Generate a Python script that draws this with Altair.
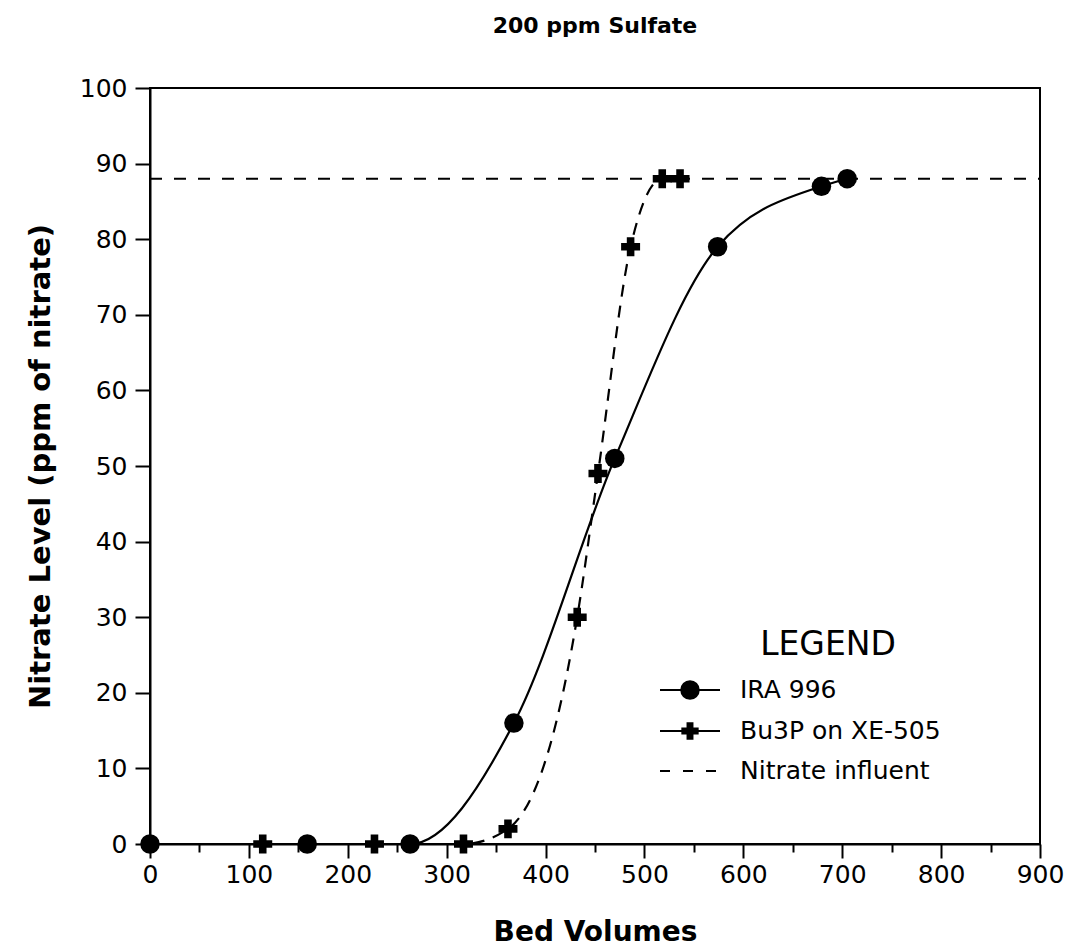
import altair as alt
import pandas as pd

# IRA 996 data (bed volumes, nitrate ppm)
ira_bv = [0, 159, 263, 368, 470, 574, 679, 705]
ira_no3 = [0, 0, 0, 16, 51, 79, 87, 88]

# Bu3P on XE-505
bu_bv = [114, 227, 317, 362, 432, 453, 486, 518, 536]
bu_no3 = [0, 0, 0, 2, 30, 49, 79, 88, 88]

influent_level = 88
x_range = [0, 900]
x_ticks = list(range(0, 901, 25))
y_major = [0, 10, 20, 30, 40, 50, 60, 70, 80, 90, 100]

legend_title = "LEGEND"
legend_labels = ["IRA 996", "Bu3P on XE-505", "Nitrate influent"]

FONT = "DejaVu Sans"

ira = pd.DataFrame({"bv": ira_bv, "no3": ira_no3})
bu = pd.DataFrame({"bv": bu_bv, "no3": bu_no3})
infl = pd.DataFrame({"bv": x_range, "no3": [influent_level] * 2})
one = pd.DataFrame({"k": [0]})

xs = alt.Scale(domain=x_range, nice=False, zero=False)
ys = alt.Scale(domain=[0, 100], nice=False)

xaxis = alt.Axis(values=x_ticks, title="Bed Volumes", labelFontSize=25, labelFont=FONT,
                 labelExpr="datum.value % 100 === 0 ? datum.label : ''",
                 titleFontSize=28, titleFont=FONT, titleFontWeight="bold", titlePadding=31,
                 tickSize={"condition": {"test": "datum.value % 100 === 0", "value": 14}, "value": 8},
                 tickWidth=2, tickColor="black", domainColor="black", domainWidth=2,
                 labelColor="black", titleColor="black", grid=False, labelPadding=4,
                 format="d", labelFlush=False)
yaxis = alt.Axis(values=y_major, title="Nitrate Level (ppm of nitrate)", labelFontSize=25,
                 labelFont=FONT, titleFontSize=29, titleFont=FONT, titleFontWeight="bold",
                 titlePadding=24, tickSize=15, tickWidth=2, tickColor="black", domainColor="black",
                 domainWidth=2, labelColor="black", titleColor="black", grid=False, labelPadding=8,
                 format="d", labelFlush=False)

base_line = alt.Chart(infl).mark_line(color="black", strokeWidth=2, strokeDash=[12, 12]).encode(
    x=alt.X("bv:Q", scale=xs, axis=xaxis),
    y=alt.Y("no3:Q", scale=ys, axis=yaxis),
)

ira_line = alt.Chart(ira).mark_line(color="black", strokeWidth=2.2, interpolate="monotone").encode(
    x=alt.X("bv:Q", scale=xs), y=alt.Y("no3:Q", scale=ys))
bu_line = alt.Chart(bu).mark_line(color="black", strokeWidth=2.2, interpolate="monotone",
                                  strokeDash=[12, 9]).encode(
    x=alt.X("bv:Q", scale=xs), y=alt.Y("no3:Q", scale=ys))
ira_pts = alt.Chart(ira).mark_point(shape="circle", filled=True, color="black", size=380, opacity=1).encode(
    x=alt.X("bv:Q", scale=xs), y=alt.Y("no3:Q", scale=ys))
bu_pts = alt.Chart(bu).mark_point(shape="cross", filled=True, color="black", size=360, opacity=1).encode(
    x=alt.X("bv:Q", scale=xs), y=alt.Y("no3:Q", scale=ys))

# custom legend (pixel positions inside plot area)
LX0, LX1, TX = 510, 570, 590
rows = [602, 643, 683]
leg = [
    alt.Chart(one).mark_text(text=legend_title, fontSize=33, font=FONT, color="black", align="center",
                             baseline="middle").encode(x=alt.value(678), y=alt.value(557)),
]
for i, lab in enumerate(legend_labels):
    leg.append(alt.Chart(one).mark_text(text=lab, fontSize=25, font=FONT, color="black", align="left",
                                        baseline="middle").encode(x=alt.value(TX), y=alt.value(rows[i])))
    dash = [10, 13] if i == 2 else [1, 0]
    leg.append(alt.Chart(one).mark_rule(color="black", strokeWidth=2, strokeDash=dash).encode(
        x=alt.value(LX0), x2=alt.value(LX1), y=alt.value(rows[i])))
leg.append(alt.Chart(one).mark_point(shape="circle", filled=True, color="black", size=380, opacity=1).encode(
    x=alt.value((LX0 + LX1) / 2), y=alt.value(rows[0])))
leg.append(alt.Chart(one).mark_point(shape="cross", filled=True, color="black", size=300, opacity=1).encode(
    x=alt.value((LX0 + LX1) / 2), y=alt.value(rows[1])))

chart = alt.layer(base_line, ira_line, bu_line, ira_pts, bu_pts, *leg).properties(
    width=890, height=756,
    background="white",
    title=alt.TitleParams("200 ppm Sulfate", fontSize=22, font=FONT, fontWeight="bold",
                          color="black", offset=38, anchor="middle"),
    autosize=alt.AutoSizeParams(type="none"),
    padding={"left": 150, "top": 88, "right": 32, "bottom": 106},
).configure_view(stroke="black", strokeWidth=2)

chart.save("out.html", embed_options={"renderer": "svg", "actions": False})
